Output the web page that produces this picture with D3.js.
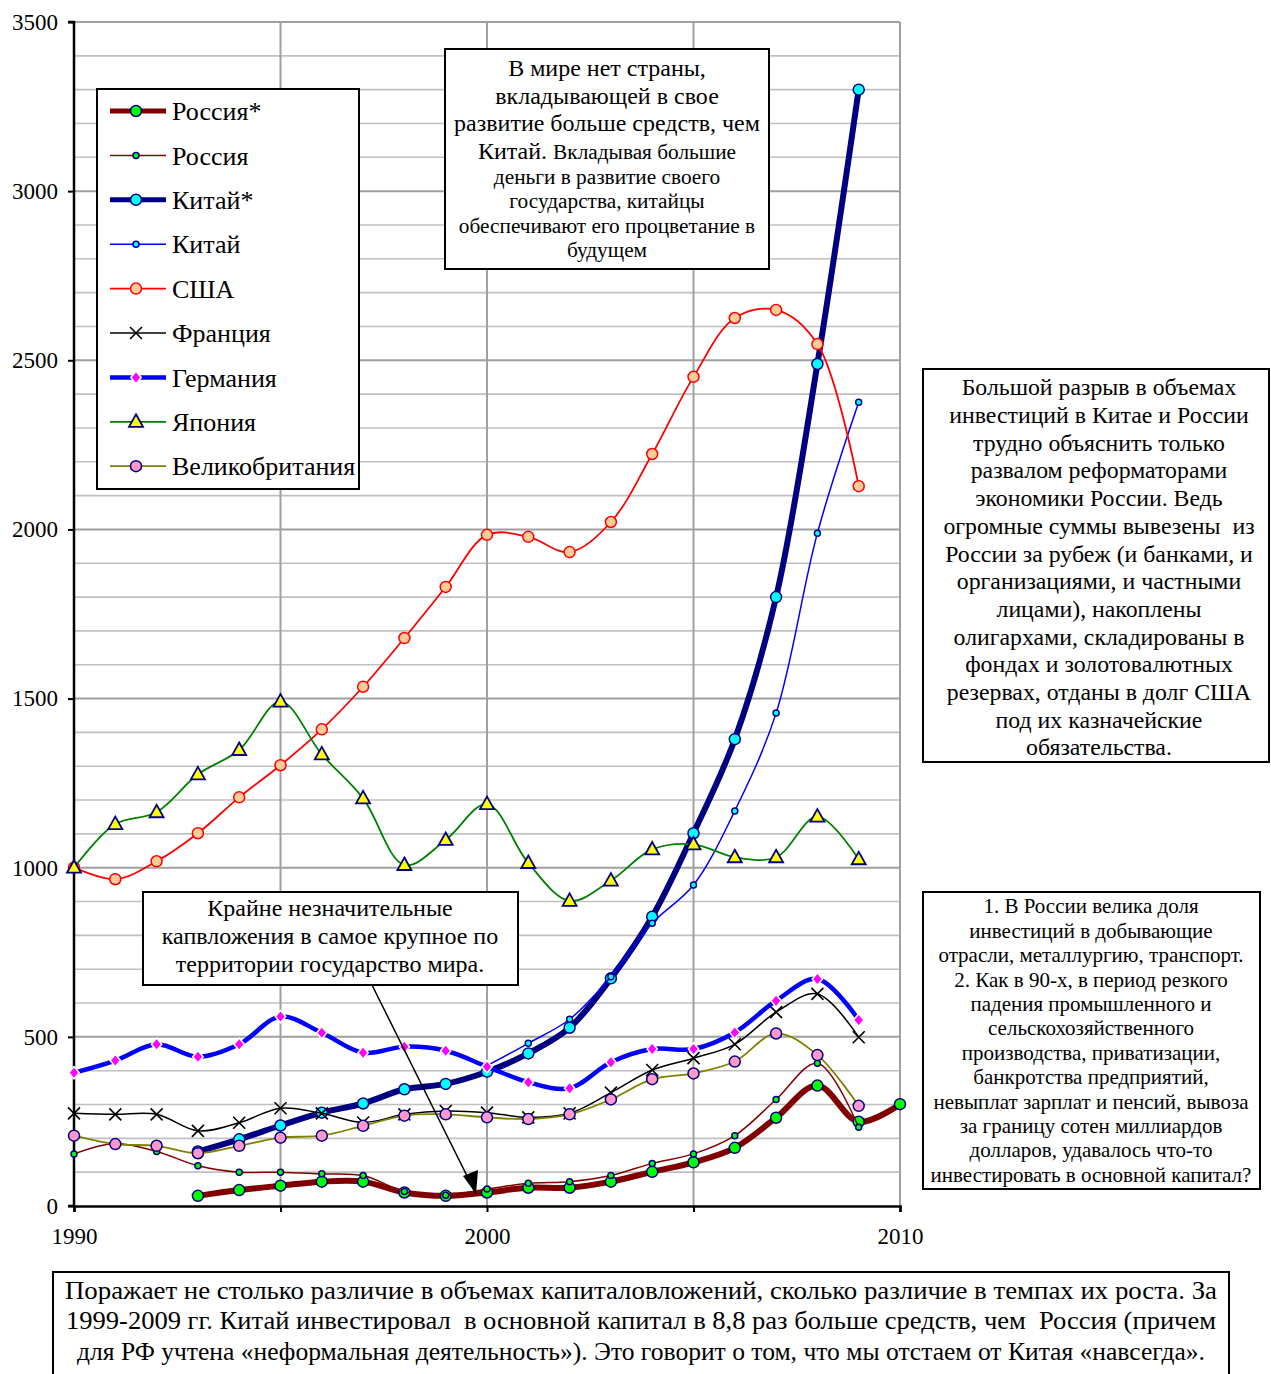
<!DOCTYPE html>
<html>
<head>
<meta charset="utf-8">
<script src="https://cdn.jsdelivr.net/npm/d3@7"></script>
<style>
  body { margin: 0; background: #fff; }
  svg text { font-family: "Liberation Serif", "Times New Roman", serif; fill: #000; white-space: pre; }
</style>
</head>
<body>
<div id="chart"></div>
<script>
// years for each series
var years = [1990, 1991, 1992, 1993, 1994, 1995, 1996, 1997, 1998, 1999, 2000, 2001, 2002, 2003, 2004, 2005, 2006, 2007, 2008, 2009];
var russiaStarYears = [1993, 1994, 1995, 1996, 1997, 1998, 1999, 2000, 2001, 2002, 2003, 2004, 2005, 2006, 2007, 2008, 2009, 2010];
var chinaStarYears = [1993, 1994, 1995, 1996, 1997, 1998, 1999, 2000, 2001, 2002, 2003, 2004, 2005, 2006, 2007, 2008, 2009];
var chinaYears = [2000, 2001, 2002, 2003, 2004, 2005, 2006, 2007, 2008, 2009];

// values
var russiaStar = [30, 47, 60, 72, 72, 40, 30, 40, 54, 54, 72, 101, 129, 172, 261, 356, 249, 301];
var russia = [154, 185, 161, 119, 100, 100, 95, 90, 43, 32, 50, 67, 72, 90, 126, 154, 208, 315, 422, 233];
var chinaStar = [161, 197, 238, 276, 303, 345, 361, 397, 451, 527, 673, 855, 1102, 1380, 1800, 2489, 3300];
var china = [415, 481, 552, 678, 836, 949, 1168, 1457, 1989, 2376];
var usa = [1001, 966, 1019, 1102, 1208, 1303, 1409, 1535, 1679, 1830, 1984, 1978, 1933, 2022, 2223, 2451, 2625, 2649, 2548, 2128];
var france = [274, 271, 271, 222, 246, 289, 274, 247, 271, 281, 276, 262, 274, 335, 402, 437, 478, 573, 627, 499];
var germany = [394, 430, 478, 441, 478, 560, 512, 453, 471, 459, 412, 366, 348, 425, 464, 464, 513, 607, 671, 550];
var japan = [1000, 1129, 1164, 1276, 1348, 1491, 1335, 1205, 1008, 1082, 1188, 1014, 902, 962, 1054, 1069, 1031, 1031, 1151, 1025];
var uk = [208, 183, 178, 156, 178, 202, 208, 237, 267, 271, 262, 257, 271, 315, 375, 392, 427, 510, 446, 296];

var yTicks = [0, 500, 1000, 1500, 2000, 2500, 3000, 3500];
var xLabels = [1990, 2000, 2010];
var xTicks = [1990, 1995, 2000, 2005, 2010];

var seriesNames = ["Россия*", "Россия", "Китай*", "Китай", "США", "Франция", "Германия", "Япония", "Великобритания"];

var series = [
  {name: seriesNames[0], x: russiaStarYears, y: russiaStar, color: "#800000", width: 6, marker: "circle", r: 5.5, fill: "#00ff00", mstroke: "#000080"},
  {name: seriesNames[1], x: years, y: russia, color: "#800000", width: 1.5, marker: "circle", r: 3, fill: "#00ff00", mstroke: "#000080"},
  {name: seriesNames[2], x: chinaStarYears, y: chinaStar, color: "#000080", width: 6, marker: "circle", r: 5.5, fill: "#00ffff", mstroke: "#000080"},
  {name: seriesNames[3], x: chinaYears, y: china, color: "#0000ff", width: 1.5, marker: "circle", r: 3, fill: "#00ffff", mstroke: "#000080"},
  {name: seriesNames[4], x: years, y: usa, color: "#ff0000", width: 1.8, marker: "circle", r: 5.5, fill: "#ffcc99", mstroke: "#ff0000"},
  {name: seriesNames[5], x: years, y: france, color: "#000000", width: 1.5, marker: "x"},
  {name: seriesNames[6], x: years, y: germany, color: "#0000ff", width: 4.5, marker: "diamond", fill: "#ff00ff"},
  {name: seriesNames[7], x: years, y: japan, color: "#008000", width: 1.8, marker: "triangle", fill: "#ffff00", mstroke: "#000080"},
  {name: seriesNames[8], x: years, y: uk, color: "#808000", width: 1.8, marker: "circle", r: 5.5, fill: "#ff99cc", mstroke: "#000080"}
];

var svgWidth = 1271, svgHeight = 1374;
var plot = {left: 74, right: 900, top: 22, bottom: 1206};

var svg = d3.select("#chart").append("svg")
  .attr("width", svgWidth)
  .attr("height", svgHeight);

var x = d3.scaleLinear().domain([1990, 2010]).range([plot.left, plot.right]);
var y = d3.scaleLinear().domain([0, 3500]).range([plot.bottom, plot.top]);

// grid
var grid = svg.append("g");
var minor = d3.range(0, 3501, 100).filter(v => v % 500 !== 0);
grid.selectAll(".minor").data(minor).enter().append("line")
  .attr("x1", plot.left).attr("x2", plot.right)
  .attr("y1", d => y(d)).attr("y2", d => y(d))
  .attr("stroke", "#c0c0c0").attr("stroke-width", 1.6);
grid.selectAll(".major").data(yTicks.slice(1)).enter().append("line")
  .attr("x1", plot.left).attr("x2", plot.right)
  .attr("y1", d => y(d)).attr("y2", d => y(d))
  .attr("stroke", "#a0a0a0").attr("stroke-width", 2);
grid.selectAll(".vert").data(xTicks.slice(1)).enter().append("line")
  .attr("x1", d => x(d)).attr("x2", d => x(d))
  .attr("y1", plot.top).attr("y2", plot.bottom)
  .attr("stroke", "#a0a0a0").attr("stroke-width", 2);

// axes
var leftAxis = d3.axisLeft(y).tickValues(yTicks).tickSize(6).tickPadding(10).tickFormat(d3.format("d"));
var bottomAxis = d3.axisBottom(x).tickValues(xTicks).tickSize(6).tickPadding(16)
  .tickFormat(d => xLabels.indexOf(d) >= 0 ? d : "");

var gy = svg.append("g").attr("transform", `translate(${plot.left},0)`).call(leftAxis);
var gx = svg.append("g").attr("transform", `translate(0,${plot.bottom})`).call(bottomAxis);
[gy, gx].forEach(g => {
  g.select(".domain").attr("stroke", "#000").attr("stroke-width", 2.5);
  g.selectAll(".tick line").attr("stroke", "#000").attr("stroke-width", 2);
  g.selectAll(".tick text").style("font-family", "Liberation Serif, serif").style("font-size", "23px").attr("fill", "#000");
});
gy.select(".domain").attr("d", `M-6,${plot.bottom}H0V${plot.top}H-6`);

var line = d3.line().curve(d3.curveCatmullRom.alpha(0.5));

function drawMarker(g, s, cx, cy) {
  if (s.marker === "circle") {
    g.append("circle").attr("cx", cx).attr("cy", cy).attr("r", s.r)
      .attr("fill", s.fill).attr("stroke", s.mstroke).attr("stroke-width", 1.5);
  } else if (s.marker === "x") {
    g.append("path").attr("transform", `translate(${cx},${cy})`)
      .attr("d", "M-6,-6L6,6M6,-6L-6,6")
      .attr("stroke", "#000").attr("stroke-width", 1.6).attr("fill", "none");
  } else if (s.marker === "diamond") {
    g.append("path").attr("transform", `translate(${cx},${cy})`)
      .attr("d", "M0,-5L4.2,0L0,5L-4.2,0Z")
      .attr("fill", s.fill).attr("stroke", "#fff").attr("stroke-width", 3)
      .attr("paint-order", "stroke");
  } else if (s.marker === "triangle") {
    g.append("path").attr("transform", `translate(${cx},${cy})`)
      .attr("d", "M0,-7.5L7,5L-7,5Z")
      .attr("fill", s.fill).attr("stroke", s.mstroke).attr("stroke-width", 1.8);
  }
}

// series
series.forEach(s => {
  var g = svg.append("g");
  var pts = s.x.map((yr, i) => [x(yr), y(s.y[i])]);
  g.append("path").attr("d", line(pts))
    .attr("fill", "none").attr("stroke", s.color).attr("stroke-width", s.width)
    .attr("stroke-linejoin", "round");
  pts.forEach(p => drawMarker(g, s, p[0], p[1]));
});

// legend
var legend = svg.append("g");
legend.append("rect").attr("x", 97).attr("y", 89).attr("width", 262).attr("height", 400)
  .attr("fill", "#fff").attr("stroke", "#000").attr("stroke-width", 2);
series.forEach((s, i) => {
  var ly = 111 + i * 44.4;
  legend.append("line").attr("x1", 110).attr("x2", 166).attr("y1", ly).attr("y2", ly)
    .attr("stroke", s.color).attr("stroke-width", Math.min(s.width, 5));
  drawMarker(legend, s, 136, ly);
  legend.append("text").attr("x", 172).attr("y", ly).attr("dy", "0.35em")
    .style("font-size", "26px").text(s.name);
});

// text boxes
function textBox(bx, by, bw, bh, lines, cx) {
  var g = svg.append("g");
  g.append("rect").attr("x", bx).attr("y", by).attr("width", bw).attr("height", bh)
    .attr("fill", "#fff").attr("stroke", "#000").attr("stroke-width", 2);
  lines.forEach(l => {
    var t = g.append("text").attr("x", cx).attr("y", l.y).attr("dy", "0.35em")
      .attr("text-anchor", "middle").style("font-size", l.size + "px");
    if (l.len) t.attr("textLength", l.len).attr("lengthAdjust", "spacingAndGlyphs");
    if (l.parts) {
      l.parts.forEach(p => t.append("tspan").style("font-size", p.size + "px").text(p.text));
    } else {
      t.text(l.text);
    }
  });
  return g;
}

textBox(445, 49, 324, 220, [
  {y: 68, size: 24, text: "В мире нет страны,"},
  {y: 96, size: 24, text: "вкладывающей в свое"},
  {y: 123, size: 24, text: "развитие больше средств, чем"},
  {y: 151, size: 24, parts: [{size: 24, text: "Китай. "}, {size: 21.3, text: "Вкладывая большие"}]},
  {y: 177, size: 21.3, text: "деньги в развитие своего"},
  {y: 201, size: 21.3, text: "государства, китайцы"},
  {y: 226, size: 21.3, text: "обеспечивают его процветание в"},
  {y: 250, size: 21.3, text: "будущем"}
], 607);

var rightLines = ["Большой разрыв в объемах", "инвестиций в Китае и России", "трудно объяснить только",
  "развалом реформаторами", "экономики России. Ведь", "огромные суммы вывезены  из",
  "России за рубеж (и банками, и", "организациями, и частными", "лицами), накоплены",
  "олигархами, складированы в", "фондах и золотовалютных", "резервах, отданы в долг США",
  "под их казначейские", "обязательства."];
textBox(923, 369, 346, 393, rightLines.map((t, i) => ({y: 387 + i * 27.7, size: 23.8, text: t})), 1099);

var right2Lines = ["1. В России велика доля", "инвестиций в добывающие", "отрасли, металлургию, транспорт.",
  "2. Как в 90-х, в период резкого", "падения промышленного и", "сельскохозяйственного",
  "производства, приватизации,", "банкротства предприятий,", "невыплат зарплат и пенсий, вывоза",
  "за границу сотен миллиардов", "долларов, удавалось что-то", "инвестировать в основной капитал?"];
textBox(923, 892, 337, 297, right2Lines.map((t, i) => ({y: 906 + i * 24.4, size: 21, text: t})), 1091);

// arrow from the lower-left box
svg.append("line").attr("x1", 372).attr("y1", 985).attr("x2", 476).attr("y2", 1194)
  .attr("stroke", "#000").attr("stroke-width", 1.5);
svg.append("path").attr("d", "M476,1194L463,1176L478,1170Z").attr("fill", "#000");

textBox(143, 892, 375, 93, [
  {y: 908, size: 24, text: "Крайне незначительные"},
  {y: 936, size: 24, text: "капвложения в самое крупное по"},
  {y: 964, size: 24, text: "территории государство мира."}
], 330);

textBox(53, 1272, 1176, 110, [
  {y: 1290, size: 26, len: 1152, text: "Поражает не столько различие в объемах капиталовложений, сколько различие в темпах их роста. За"},
  {y: 1320, size: 26, len: 1150, text: "1999-2009 гг. Китай инвестировал  в основной капитал в 8,8 раз больше средств, чем  Россия (причем"},
  {y: 1351, size: 26, len: 1128, text: "для РФ учтена «неформальная деятельность»). Это говорит о том, что мы отстаем от Китая «навсегда»."}
], 641);
</script>
</body>
</html>
